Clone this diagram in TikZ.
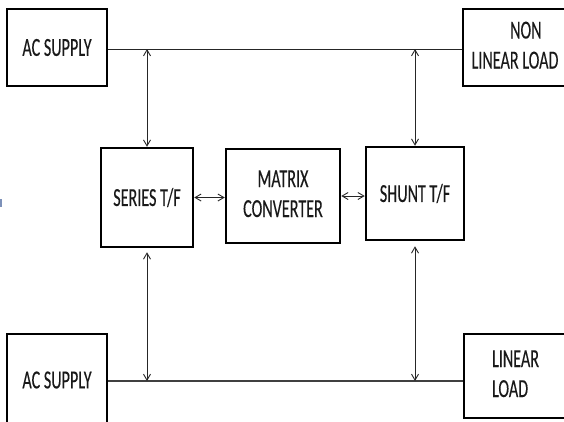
\documentclass[tikz,border=0pt]{standalone}
\usepackage{fontspec}
\setmainfont{Carlito}[FakeBold=0.3]
\usetikzlibrary{arrows.meta,calc}
\newcommand{\sq}[1]{\scalebox{0.62}[1]{#1}}
\definecolor{markblue}{RGB}{125,145,185}
\begin{document}
\begin{tikzpicture}[x=1pt,y=1pt,
  blk/.style={draw=black,line width=2.5pt,inner sep=0pt,text=black!90,
    font=\fontsize{26}{30}\selectfont},
  wire/.style={line width=1pt,draw=black!85},
  dbl/.style={line width=0.9pt,draw=black!85,{Straight Barb[length=6pt,width=7pt]}-{Straight Barb[length=6pt,width=7pt]}}]
\clip (0,0) rectangle (564,-421);
\fill[white] (0,0) rectangle (564,-421);
% boxes
\node[blk,minimum width=100pt,minimum height=77pt] (acs1) at (57,-47.5) {\sq{AC SUPPLY}};
\node[blk,minimum width=104pt,minimum height=77pt] (nll) at (515,-47.5)
  {\sq{\begin{tabular}{@{}c@{}}\hspace*{35pt}NON\\LINEAR LOAD\end{tabular}}};
\node[blk,minimum width=92pt,minimum height=99pt] (ser) at (147,-197.5) {\sq{SERIES T/F}};
\node[blk,minimum width=114pt,minimum height=94pt] (mat) at (283,-196)
  {\sq{\begin{tabular}{@{}c@{}}MATRIX\\CONVERTER\end{tabular}}};
\node[blk,minimum width=98pt,minimum height=93pt] (shu) at (415,-193.5) {\sq{SHUNT T/F}};
\node[blk,minimum width=100pt,minimum height=92pt] (acs2) at (57,-380) {\sq{AC SUPPLY}};
\node[blk,minimum width=103pt,minimum height=84pt] (ll) at (515.5,-376)
  {\sq{\begin{tabular}{@{}l@{}}LINEAR\\LOAD\end{tabular}}};
% junction points
\coordinate (jt1) at (147,-49);
\coordinate (jt2) at (415,-49);
\coordinate (jb1) at (147,-381);
\coordinate (jb2) at (415,-381);
% bus lines
\draw[wire] (acs1.east |- jt1) -- (nll.west |- jt1);
\draw[wire,line width=1.3pt,draw=black!75] (acs2.east |- jb1) -- (ll.west |- jb1);
% vertical connectors
\draw[dbl] (jt1) -- (ser.north);
\draw[dbl] (jt2) -- (shu.north);
\draw[dbl,shorten <=4pt] (ser.south) -- (jb1);
\draw[dbl,shorten <=5pt] (shu.south) -- (jb2);
% horizontal connectors
\draw[dbl] (ser.east) -- (mat.west |- ser.east);
\draw[dbl] (mat.east) -- (shu.west |- mat.east);
% small mark at left edge
\fill[markblue] (0,-199) rectangle (2,-207);
\end{tikzpicture}
\end{document}
